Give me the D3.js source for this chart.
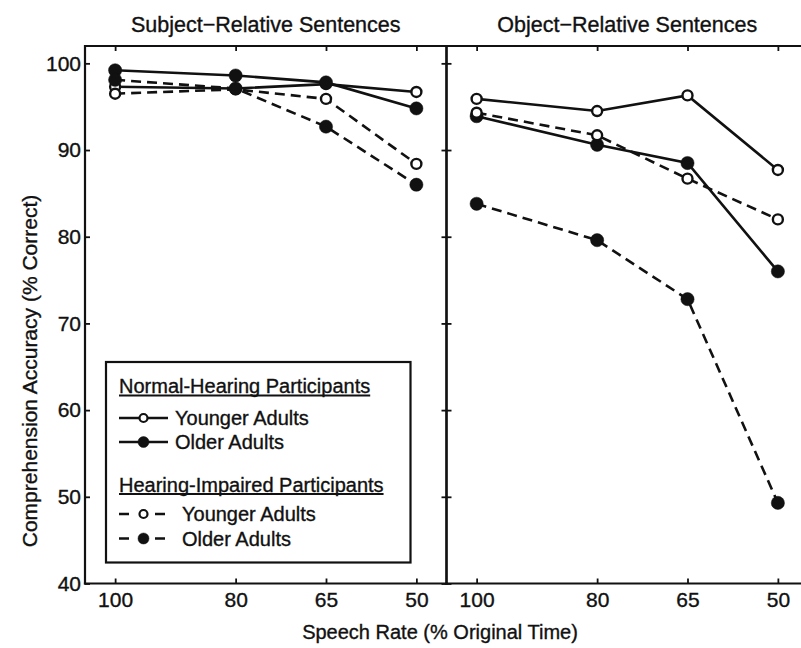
<!DOCTYPE html>
<html lang="en">
<head>
	<meta charset="utf-8">
	<title>comprehension accuracy by speech rate</title>
	<script src="https://d3js.org/d3.v7.min.js"></script>
	<style type="text/css">
		html, body { margin: 0; padding: 0; background: #fff; overflow: hidden; }
		#chart-svg { display: block; }
		svg text { font-family: "Liberation Sans", Arial, Helvetica, sans-serif; fill: #111; stroke: #111; stroke-width: 0.35px; }
	</style>
</head>
<body>
	<svg id="chart-svg"></svg>

	<script type="text/javascript">
		// Data -------------------------
		let rates = [100, 80, 65, 50]
		let yTickValues = [40, 50, 60, 70, 80, 90, 100]
		let panelTitles = ['Subject\u2212Relative Sentences', 'Object\u2212Relative Sentences']
		let legendHeadings = ['Normal-Hearing Participants', 'Hearing-Impaired Participants']
		let legendLabels = ['Younger Adults', 'Older Adults']

		// subject-relative
		let subjNhYounger = [97.3, 97.1, 97.6, 96.7]
		let subjNhOlder   = [99.2, 98.6, 97.8, 94.8]
		let subjHiYounger = [96.5, 97.0, 95.9, 88.4]
		let subjHiOlder   = [98.1, 97.1, 92.7, 86.0]
		// object-relative
		let objNhYounger = [95.9, 94.5, 96.3, 87.7]
		let objNhOlder   = [93.9, 90.6, 88.5, 76.0]
		let objHiYounger = [94.3, 91.7, 86.7, 82.0]
		let objHiOlder   = [83.8, 79.6, 72.8, 49.3]

		// Parameters -------------------
		let w = 801
		let h = 648
		let plotTop = 46
		let plotBottom = 583.5
		let plotLeft = 85
		let panelW = 361.5
		let ink = '#111'

		let svg = d3.select('#chart-svg')
		.attr('width', w)
		.attr('height', h)

		function series(nhY, nhO, hiY, hiO) {
			return [
				{ dashed: false, filled: false, values: nhY },
				{ dashed: false, filled: true, values: nhO },
				{ dashed: true, filled: false, values: hiY },
				{ dashed: true, filled: true, values: hiO }
			]
		}
		let panels = [
			{ title: panelTitles[0], series: series(subjNhYounger, subjNhOlder, subjHiYounger, subjHiOlder) },
			{ title: panelTitles[1], series: series(objNhYounger, objNhOlder, objHiYounger, objHiOlder) }
		]

		let yScale = d3.scaleLinear()
		.domain([40, 102])
		.range([plotBottom, plotTop])

		function styleAxis(sel) {
			sel.select('.domain').remove()
			sel.selectAll('.tick line').attr('stroke', ink).attr('stroke-width', 1.8)
			sel.selectAll('.tick text').attr('fill', ink)
			sel.attr('font-size', 21).attr('font-family', null)
		}

		panels.forEach(function(p, i) {
			let x0 = plotLeft + i * panelW
			let x1 = x0 + panelW
			let xScale = d3.scaleLinear()
			.domain([105, 45])
			.range([x0, x1])

			let grp = svg.append('g')

			grp.append('g')
			.attr('transform', 'translate(0,' + plotBottom + ')')
			.call(d3.axisBottom(xScale).tickValues(rates).tickSize(-5).tickPadding(9))
			.call(styleAxis)

			grp.append('g')
			.attr('transform', 'translate(0,' + plotTop + ')')
			.call(d3.axisTop(xScale).tickValues(rates).tickSize(-5).tickFormat(''))
			.call(styleAxis)

			grp.append('g')
			.attr('transform', 'translate(' + x0 + ',0)')
			.call(d3.axisLeft(yScale).tickValues(yTickValues).tickSize(-5).tickPadding(4)
				.tickFormat(i === 0 ? d3.format('d') : ''))
			.call(styleAxis)

			if (x1 < w) {
				grp.append('g')
				.attr('transform', 'translate(' + x1 + ',0)')
				.call(d3.axisRight(yScale).tickValues(yTickValues).tickSize(-5).tickFormat(''))
				.call(styleAxis)
			}

			// frame: the right edge of the last panel falls outside the picture
			let frame = [
				[[x0, plotBottom], [x0, plotTop], [x1, plotTop]],
				[[x0, plotBottom], [x1, plotBottom]]
			]
			if (x1 < w) frame.push([[x1, plotTop], [x1, plotBottom]])
			grp.selectAll('path.frame')
			.data(frame)
			.enter()
			.append('path')
			.attr('class', 'frame')
			.attr('d', d3.line())
			.attr('fill', 'none')
			.attr('stroke', ink)
			.attr('stroke-width', 2.2)
			.attr('stroke-linecap', 'square')

			grp.append('text')
			.attr('x', x0 + panelW / 2)
			.attr('y', 31.5)
			.attr('text-anchor', 'middle')
			.attr('font-size', 21.5)
			.text(p.title)

			let line = d3.line()
			.x(function(d, j) { return xScale(rates[j]) })
			.y(function(d) { return yScale(d) })

			grp.selectAll('path.series')
			.data(p.series)
			.enter()
			.append('path')
			.attr('class', 'series')
			.attr('d', function(d) { return line(d.values) })
			.attr('fill', 'none')
			.attr('stroke', ink)
			.attr('stroke-width', 2.6)
			.attr('stroke-dasharray', function(d) { return d.dashed ? '10,6' : null })

			p.series.forEach(function(s) {
				grp.selectAll(null)
				.data(s.values)
				.enter()
				.append('circle')
				.attr('cx', function(d, j) { return xScale(rates[j]) })
				.attr('cy', function(d) { return yScale(d) })
				.attr('r', s.filled ? 6.6 : 5)
				.attr('fill', s.filled ? ink : '#fff')
				.attr('stroke', ink)
				.attr('stroke-width', s.filled ? 0.5 : 2.4)
			})
		})

		// axis titles
		svg.append('text')
		.attr('x', 440)
		.attr('y', 639)
		.attr('text-anchor', 'middle')
		.attr('font-size', 20)
		.text('Speech Rate (% Original Time)')

		svg.append('text')
		.attr('transform', 'translate(37,371) rotate(-90)')
		.attr('text-anchor', 'middle')
		.attr('font-size', 21)
		.text('Comprehension Accuracy (% Correct)')

		// legend -----------------------
		let lg = svg.append('g')
		lg.append('rect')
		.attr('x', 106)
		.attr('y', 362)
		.attr('width', 304.5)
		.attr('height', 200.5)
		.attr('fill', '#fff')
		.attr('stroke', ink)
		.attr('stroke-width', 2.2)

		let headingY = [393, 491.5]
		let itemY = [[418, 442], [514, 538.5]]
		legendHeadings.forEach(function(hd, k) {
			let t = lg.append('text')
			.attr('x', 119)
			.attr('y', headingY[k])
			.attr('font-size', 20)
			.text(hd)
			let len = t.node().getComputedTextLength()
			lg.append('line')
			.attr('x1', 119)
			.attr('x2', 119 + len)
			.attr('y1', headingY[k] + 2.5)
			.attr('y2', headingY[k] + 2.5)
			.attr('stroke', ink)
			.attr('stroke-width', 1.8)

			legendLabels.forEach(function(lb, m) {
				let yy = itemY[k][m]
				let dashed = k === 1
				lg.append('line')
				.attr('x1', 119)
				.attr('x2', dashed ? 166 : 168)
				.attr('y1', yy)
				.attr('y2', yy)
				.attr('stroke', ink)
				.attr('stroke-width', 2.6)
				.attr('stroke-dasharray', dashed ? '10,26' : null)
				lg.append('circle')
				.attr('cx', 143.5)
				.attr('cy', yy)
				.attr('r', m === 1 ? 5.5 : 4)
				.attr('fill', m === 1 ? ink : '#fff')
				.attr('stroke', ink)
				.attr('stroke-width', m === 1 ? 0.5 : 2.2)
				lg.append('text')
				.attr('x', dashed ? 182 : 175)
				.attr('y', yy + 7)
				.attr('font-size', 20)
				.text(lb)
			})
		})
	</script>
</body>
</html>
